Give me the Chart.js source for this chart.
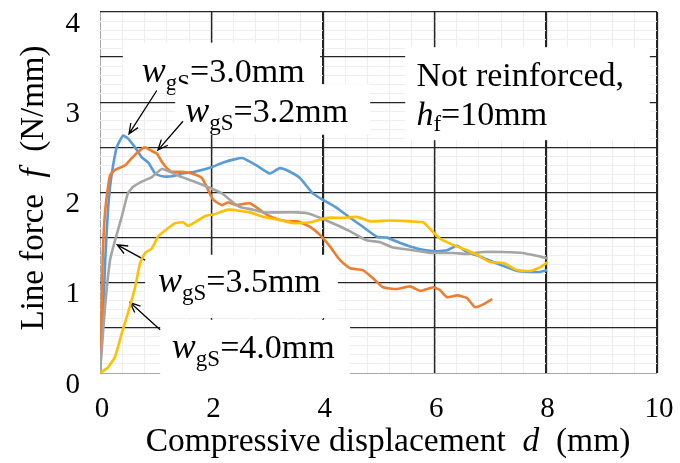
<!DOCTYPE html>
<html>
<head>
<meta charset="utf-8">
<script src="https://cdn.jsdelivr.net/npm/chart.js@4.4.1/dist/chart.umd.min.js"></script>
<style>
  html, body { margin: 0; padding: 0; background: #fff; }
</style>
</head>
<body>
<canvas id="myChart" width="680" height="463"></canvas>
<script>
// compressive displacement d (mm) and line force f (N/mm), one pair per slit width
const d30 = [0, 0.05, 0.1, 0.14, 0.18, 0.23, 0.3, 0.41, 0.5, 0.63, 0.75, 0.87, 0.99, 1.11, 1.29, 1.47, 1.7, 2.0, 2.2, 2.43, 2.57, 2.81, 3.05, 3.23, 3.41, 3.59, 3.82, 4.0, 4.25, 4.49, 4.72, 4.97, 5.15, 5.39, 5.69, 5.98, 6.23, 6.41, 6.59, 6.82, 7.06, 7.31, 7.49, 7.72, 7.9, 8.03];
const f30 = [0, 0.6, 1.33, 1.77, 2.06, 2.28, 2.5, 2.63, 2.6, 2.5, 2.39, 2.33, 2.21, 2.18, 2.18, 2.21, 2.23, 2.28, 2.33, 2.37, 2.38, 2.3, 2.21, 2.27, 2.23, 2.16, 1.99, 1.92, 1.83, 1.72, 1.62, 1.51, 1.5, 1.44, 1.38, 1.35, 1.36, 1.41, 1.34, 1.29, 1.23, 1.17, 1.13, 1.12, 1.12, 1.14];

const d32 = [0, 0.03, 0.05, 0.08, 0.12, 0.18, 0.27, 0.45, 0.57, 0.68, 0.81, 0.93, 1.02, 1.11, 1.2, 1.29, 1.47, 1.65, 1.83, 1.94, 2.03, 2.19, 2.3, 2.45, 2.69, 2.93, 3.11, 3.36, 3.54, 3.77, 3.95, 4.13, 4.31, 4.49, 4.72, 4.9, 5.08, 5.33, 5.57, 5.75, 5.98, 6.1, 6.23, 6.41, 6.59, 6.73, 6.88, 7.04];
const f32 = [0, 0.7, 1.33, 1.7, 1.95, 2.19, 2.25, 2.3, 2.38, 2.45, 2.5, 2.46, 2.43, 2.34, 2.27, 2.23, 2.23, 2.21, 2.16, 2.03, 1.92, 1.86, 1.89, 1.86, 1.88, 1.78, 1.72, 1.68, 1.68, 1.62, 1.53, 1.4, 1.25, 1.16, 1.14, 1.05, 0.95, 0.93, 0.96, 0.91, 0.95, 0.92, 0.84, 0.86, 0.83, 0.73, 0.76, 0.82];

const d35 = [0, 0.09, 0.18, 0.27, 0.39, 0.5, 0.59, 0.75, 0.93, 1.11, 1.29, 1.47, 1.7, 1.94, 2.19, 2.39, 2.51, 2.75, 2.93, 3.18, 3.54, 3.72, 3.95, 4.25, 4.49, 4.79, 5.03, 5.26, 5.62, 5.92, 6.34, 6.59, 6.88, 7.24, 7.59, 7.9, 8.04];
const f35 = [0, 0.73, 1.25, 1.47, 1.73, 1.99, 2.06, 2.12, 2.17, 2.26, 2.22, 2.17, 2.12, 2.06, 1.99, 1.89, 1.84, 1.81, 1.78, 1.78, 1.78, 1.77, 1.72, 1.64, 1.57, 1.47, 1.45, 1.39, 1.36, 1.33, 1.33, 1.32, 1.34, 1.34, 1.33, 1.29, 1.27];

const d40 = [0, 0.14, 0.27, 0.39, 0.5, 0.63, 0.72, 0.81, 0.93, 1.04, 1.17, 1.35, 1.49, 1.58, 1.7, 1.89, 2.06, 2.3, 2.69, 2.93, 3.18, 3.47, 3.77, 4.08, 4.36, 4.61, 4.85, 5.21, 5.57, 5.8, 5.92, 6.1, 6.34, 6.59, 6.77, 7.0, 7.24, 7.49, 7.72, 7.9, 8.04];
const f40 = [0, 0.06, 0.18, 0.44, 0.66, 0.95, 1.22, 1.33, 1.38, 1.51, 1.58, 1.66, 1.67, 1.63, 1.67, 1.74, 1.76, 1.81, 1.78, 1.73, 1.7, 1.66, 1.67, 1.72, 1.72, 1.73, 1.68, 1.69, 1.68, 1.67, 1.6, 1.49, 1.42, 1.36, 1.31, 1.23, 1.22, 1.14, 1.13, 1.17, 1.23];

const xTicks = ['0', '2', '4', '6', '8', '10'];
const yTicks = ['0', '1', '2', '3', '4'];

const SERIF = '"Liberation Serif", "Times New Roman", serif';
const ctx = document.getElementById('myChart');

function pts(xs, ys) {
  return xs.map((x, i) => ({ x: x, y: ys[i] }));
}

function near(v, step) {
  return Math.abs(v / step - Math.round(v / step)) < 1e-6;
}

function gridColor(v, step) {
  if (Math.abs(v) < 1e-6) return '#a6a6a6';
  return near(v, step) ? '#262626' : '#eeeeee';
}

// text made of runs: [text, size, italic, shift down]
function rich(c, parts, x, y) {
  let cx = x;
  parts.forEach(p => {
    c.font = (p[2] ? 'italic ' : '') + p[1] + 'px ' + SERIF;
    c.fillText(p[0], cx, y + (p[3] || 0));
    cx += c.measureText(p[0]).width;
  });
}

function runWidth(c, parts) {
  let w = 0;
  parts.forEach(p => {
    c.font = (p[2] ? 'italic ' : '') + p[1] + 'px ' + SERIF;
    w += c.measureText(p[0]).width;
  });
  return w;
}

function wgs(val) {
  return [['w', 36, true], ['gS', 23, false, 8], ['=' + val + 'mm', 34, false]];
}

// boxes in data units: [x0, y0, x1, y1], text start [x, y]
const notes = [
  { box: [0.41, 3.66, 3.95, 3.1], at: [0.75, 3.22], lines: [wgs('3.0')] },
  { box: [1.35, 3.2, 4.85, 2.64], at: [1.53, 2.78], lines: [wgs('3.2')] },
  { box: [5.48, 3.61, 9.87, 2.58], at: [5.68, 3.18],
    lines: [[['Not reinforced,', 34, false]], [['h', 34, true], ['f', 23, false, 6], ['=10mm', 34, false]]] },
  { box: [0.81, 1.31, 4.27, 0.61], at: [1.04, 0.9], lines: [wgs('3.5')] },
  { box: [1.08, 0.59, 4.49, -0.1], at: [1.29, 0.17], lines: [wgs('4.0')] }
];

const arrows = [
  [1.02, 3.13, 0.52, 2.65],
  [1.49, 2.79, 1.04, 2.47],
  [0.81, 1.25, 0.31, 1.42],
  [1.08, 0.48, 0.54, 0.78]
];

const notesPlugin = {
  id: 'notes',
  beforeDatasetsDraw(chart) {
    const c = chart.ctx, xs = chart.scales.x, ys = chart.scales.y, a = chart.chartArea;
    const px = v => xs.getPixelForValue(v), py = v => ys.getPixelForValue(v);

    // major verticals again so the light horizontal lines do not cut them
    c.save();
    c.strokeStyle = '#262626';
    c.lineWidth = 1.3;
    xs.ticks.forEach(t => {
      if (t.value > 0 && near(t.value, 2)) {
        const x = Math.round(px(t.value)) + 0.5;
        c.beginPath(); c.moveTo(x, a.top); c.lineTo(x, a.bottom); c.stroke();
      }
    });
    c.restore();

    c.save();
    c.beginPath();
    c.rect(a.left + 1, a.top, a.right - a.left - 1, a.bottom - a.top + 4);
    c.clip();
    c.textBaseline = 'alphabetic';
    notes.forEach(n => {
      const b = n.box;
      c.fillStyle = '#fff';
      c.fillRect(px(b[0]), py(b[1]), px(b[2]) - px(b[0]), py(b[3]) - py(b[1]));
      c.fillStyle = '#000';
      n.lines.forEach((ln, i) => rich(c, ln, px(n.at[0]), py(n.at[1]) + i * 39));
    });

    c.strokeStyle = '#000';
    c.lineWidth = 1.3;
    arrows.forEach(ar => {
      const x0 = px(ar[0]), y0 = py(ar[1]), x1 = px(ar[2]), y1 = py(ar[3]);
      const ang = Math.atan2(y1 - y0, x1 - x0);
      c.beginPath();
      c.moveTo(x0, y0); c.lineTo(x1, y1);
      c.moveTo(x1 - 11 * Math.cos(ang - 0.4), y1 - 11 * Math.sin(ang - 0.4));
      c.lineTo(x1, y1);
      c.lineTo(x1 - 11 * Math.cos(ang + 0.4), y1 - 11 * Math.sin(ang + 0.4));
      c.stroke();
    });
    c.restore();
  },
  afterDraw(chart) {
    const c = chart.ctx;
    c.save();
    c.fillStyle = '#000';
    c.textBaseline = 'alphabetic';

    // x axis title
    const xt = [['Compressive displacement  ', 33.5, false], ['d', 33.5, true], ['  (mm)', 33.5, false]];
    rich(c, xt, 388 - runWidth(c, xt) / 2, 451);

    // y axis title
    const yt = [['Line force  ', 33, false], ['f', 33, true], ['  (N/mm)', 33, false]];
    const w = runWidth(c, yt);
    c.translate(43, 188);
    c.rotate(-Math.PI / 2);
    rich(c, yt, -w / 2, 0);
    c.restore();
  }
};

const line = (data, color) => ({
  data: data,
  borderColor: color,
  borderWidth: 2.6,
  pointRadius: 0,
  tension: 0.15,
  fill: false
});

new Chart(ctx, {
  type: 'line',
  data: {
    datasets: [
      line(pts(d40, f40), '#FFC000'),
      line(pts(d35, f35), '#A5A5A5'),
      line(pts(d32, f32), '#ED7D31'),
      line(pts(d30, f30), '#5B9BD5')
    ]
  },
  plugins: [notesPlugin],
  options: {
    responsive: false,
    animation: false,
    layout: {
      padding: { top: 12, right: 23, left: 0, bottom: 0 }
    },
    plugins: {
      legend: { display: false },
      tooltip: { enabled: false }
    },
    scales: {
      x: {
        type: 'linear',
        min: 0,
        max: 10,
        afterFit: s => { s.height = 90; s.paddingLeft = 0; s.paddingRight = 0; },
        border: { display: false },
        grid: {
          drawTicks: false,
          color: c => gridColor(c.tick.value, 2),
          lineWidth: c => (c.tick.value > 0 && near(c.tick.value, 2)) ? 1.3 : 1
        },
        ticks: {
          stepSize: 0.4,
          autoSkip: false,
          maxRotation: 0,
          padding: 19,
          labelOffset: 2,
          color: '#000',
          font: { family: SERIF, size: 29 },
          callback: v => near(v, 2) ? xTicks[Math.round(v / 2)] : ''
        }
      },
      y: {
        min: 0,
        max: 4,
        afterFit: s => { s.width = 100; s.paddingTop = 0; s.paddingBottom = 0; },
        border: { display: false },
        grid: {
          drawTicks: false,
          color: c => gridColor(c.tick.value, 0.5),
          lineWidth: c => (c.tick.value > 0 && near(c.tick.value, 0.5)) ? 1.3 : 1
        },
        ticks: {
          stepSize: 0.1,
          autoSkip: false,
          padding: 20,
          labelOffset: 12,
          color: '#000',
          font: { family: SERIF, size: 29, lineHeight: 0.7 },
          callback: v => near(v, 1) ? yTicks[Math.round(v)] : ''
        }
      }
    }
  }
});
</script>
</body>
</html>
